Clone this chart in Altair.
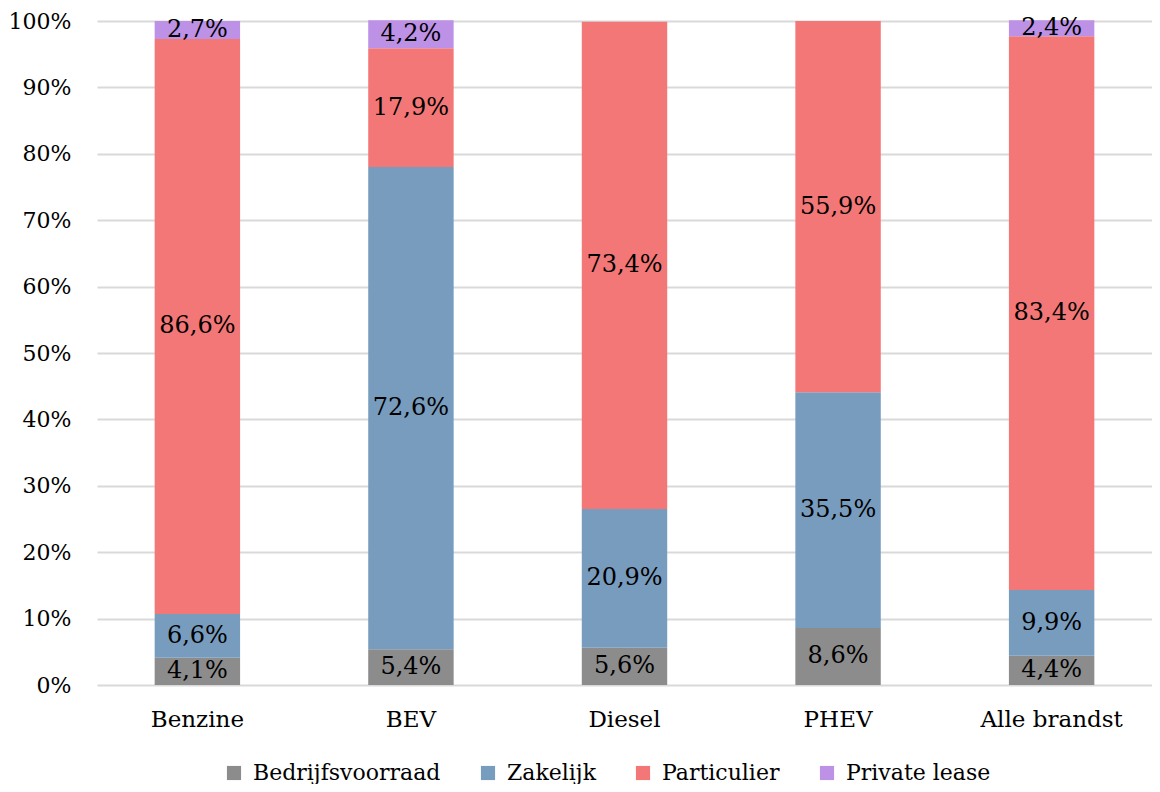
import altair as alt
import pandas as pd

categories = ["Benzine", "BEV", "Diesel", "PHEV", "Alle brandst"]
series = ["Bedrijfsvoorraad", "Zakelijk", "Particulier", "Private lease"]
bedrijfsvoorraad = [4.1, 5.4, 5.6, 8.6, 4.4]
zakelijk = [6.6, 72.6, 20.9, 35.5, 9.9]
particulier = [86.6, 17.9, 73.4, 55.9, 83.4]
private_lease = [2.7, 4.2, 0.0, 0.0, 2.4]
colors = ["#8c8c8c", "#789cbe", "#f47777", "#bd91e6"]

rows = []
for i, c in enumerate(categories):
    for j, (s, vals) in enumerate(zip(series, [bedrijfsvoorraad, zakelijk, particulier, private_lease])):
        rows.append({"cat": c, "serie": s, "order": j, "value": vals[i]})
df = pd.DataFrame(rows)

FONT = "DejaVu Serif"

base = alt.Chart(df).transform_filter("datum.value > 0")

x = alt.X("cat:N", sort=categories, title=None,
          scale=alt.Scale(paddingInner=0.6, paddingOuter=0.27),
          axis=alt.Axis(labelAngle=0, labelFont=FONT, labelFontSize=23, labelColor="#000000",
                        ticks=False, domain=False, labelPadding=23))

bars = base.mark_bar().encode(
    x=x,
    y=alt.Y("sum(value):Q", stack="zero", title=None,
            scale=alt.Scale(domain=[0, 100]),
            axis=alt.Axis(values=list(range(0, 101, 10)), labelExpr="datum.value + '%'",
                          labelFont=FONT, labelFontSize=22, labelColor="#000000",
                          ticks=False, domain=False, labelPadding=26,
                          gridColor="#d9d9d9", gridWidth=2)),
    color=alt.Color("serie:N", sort=series,
                    scale=alt.Scale(domain=series, range=colors),
                    legend=alt.Legend(title=None, orient="none", direction="horizontal",
                                      legendX=126, legendY=741, labelLimit=0,
                                      symbolType="square", symbolSize=200, symbolStrokeWidth=0,
                                      labelFont=FONT, labelFontSize=22, labelColor="#000000",
                                      labelOffset=8, columnPadding=36)),
    order=alt.Order("order:Q"),
)

labels = base.transform_stack(
    stack="value", groupby=["cat"], sort=[alt.SortField("order")], as_=["v0", "v1"]
).transform_calculate(
    mid="(datum.v0 + datum.v1) / 2",
    txt="replace(format(datum.value, '.1f'), '.', ',') + '%'"
).mark_text(font=FONT, fontSize=24, color="#000000", baseline="middle").encode(
    x=alt.X("cat:N", sort=categories),
    y=alt.Y("mid:Q"),
    text="txt:N",
)

chart = alt.layer(bars, labels).properties(
    width=1055, height=664,
    autosize=alt.AutoSizeParams(type="none"),
    padding={"left": 89, "top": 13, "right": 0, "bottom": 99},
).configure_view(stroke=None)

chart.save("out.html", embed_options={"renderer": "svg", "actions": False})
